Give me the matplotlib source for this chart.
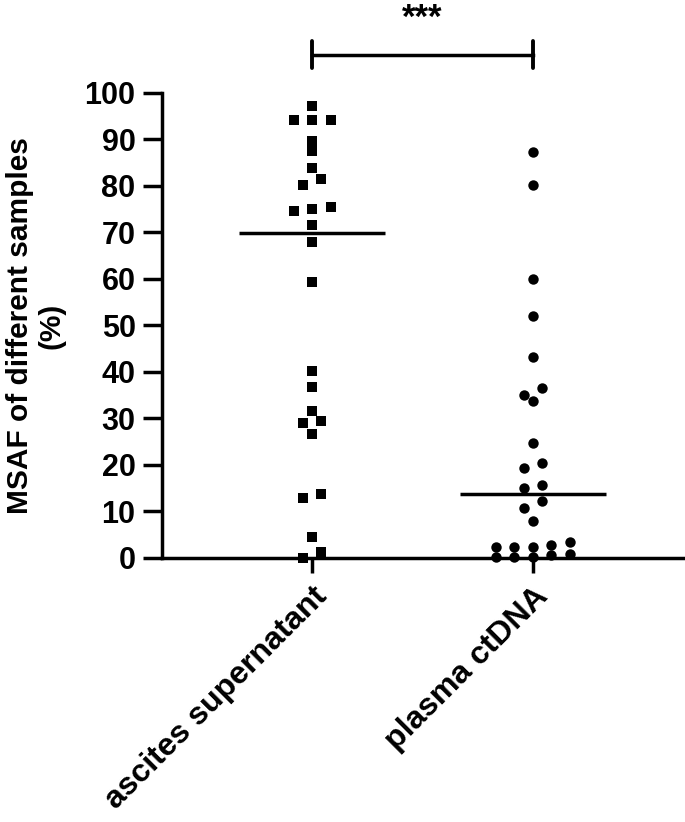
import numpy as np
import matplotlib
matplotlib.use("Agg")
import matplotlib.pyplot as plt

plt.rcParams['font.family'] = ['Liberation Sans', 'DejaVu Sans']
plt.rcParams['font.weight'] = 'bold'

categories = ["ascites supernatant", "plasma ctDNA"]
ascites = [97.1, 94.2, 94.2, 94.2, 89.7, 87.5, 83.9, 81.4, 80.2, 75.5, 75.1, 74.7,
           71.6, 68.0, 59.4, 40.3, 36.7, 31.6, 29.5, 29.0, 26.6, 13.8, 12.8, 4.6, 1.2, 0.1]
plasma = [87.4, 80.2, 60.1, 52.0, 43.3, 36.6, 35.1, 33.8, 24.7, 20.4, 19.4, 15.7,
          15.1, 12.3, 10.7, 8.0, 3.5, 2.8, 2.4, 2.4, 2.3, 0.8, 0.6, 0.3, 0.3, 0.3]
groups = [ascites, plasma]
markers = ['s', 'o']
yticks = [0, 10, 20, 30, 40, 50, 60, 70, 80, 90, 100]
signif = "***"

ROW_H = 1.94   # value units that count as one row
STEP = 0.084   # horizontal spacing between points in a row


def scatter_offsets(vals):
    """GraphPad-like scatter: group close values into rows, centre each row."""
    order = np.argsort(vals)[::-1]
    offs = np.zeros(len(vals))
    i = 0
    while i < len(order):
        top = vals[order[i]]
        row = [order[i]]
        j = i + 1
        while j < len(order) and top - vals[order[j]] < ROW_H:
            row.append(order[j])
            j += 1
        row = sorted(row, key=lambda k: vals[k])
        n = len(row)
        for r, k in enumerate(row):
            offs[k] = (r - (n - 1) / 2) * STEP
        i = j
    return offs


fig = plt.figure(figsize=(6.85, 8.22), dpi=100)
ax = fig.add_axes([0.2365, 0.3212, 0.7606, 0.5657])

for pos, (vals, m) in enumerate(zip(groups, markers)):
    vals = np.array(vals)
    x = pos + scatter_offsets(vals)
    ms = 7.0 if m == 's' else 7.5
    ax.plot(x, vals, m, color='black', markersize=ms, markeredgewidth=0,
            clip_on=False, zorder=3)
    med = np.median(vals)
    ax.plot([pos - 0.33, pos + 0.33], [med, med], color='black', lw=2.5,
            solid_capstyle='butt', zorder=2)

ax.set_xlim(-0.68, 1.68)
ax.set_ylim(0, 100)
ax.set_yticks(yticks)
ax.set_xticks(range(len(categories)))
ax.set_xticklabels(categories, rotation=45, ha='right', rotation_mode='anchor',
                   fontsize=23, fontweight='bold')
ax.tick_params(axis='y', length=14, width=2.5, labelsize=22, pad=5)
ax.tick_params(axis='x', length=11, width=2.5, pad=6)
for lab in ax.get_yticklabels():
    lab.set_fontweight('bold')

for s in ['top', 'right']:
    ax.spines[s].set_visible(False)
for s in ['left', 'bottom']:
    ax.spines[s].set_linewidth(2.5)

ax.set_ylabel("MSAF of different samples\n(%)", fontsize=21.5, fontweight='bold',
              labelpad=14, linespacing=1.15)

# significance bracket
ax.plot([0, 1], [108.2, 108.2], color='black', lw=2.5, clip_on=False)
for p in [0, 1]:
    ax.plot([p, p], [105.4, 111.1], color='black', lw=2.8, clip_on=False,
            solid_capstyle='round')
ax.text(0.5, 112.4, signif, ha='center', va='bottom', fontsize=25,
        fontweight='bold')

fig.savefig("out.png", dpi=100)
